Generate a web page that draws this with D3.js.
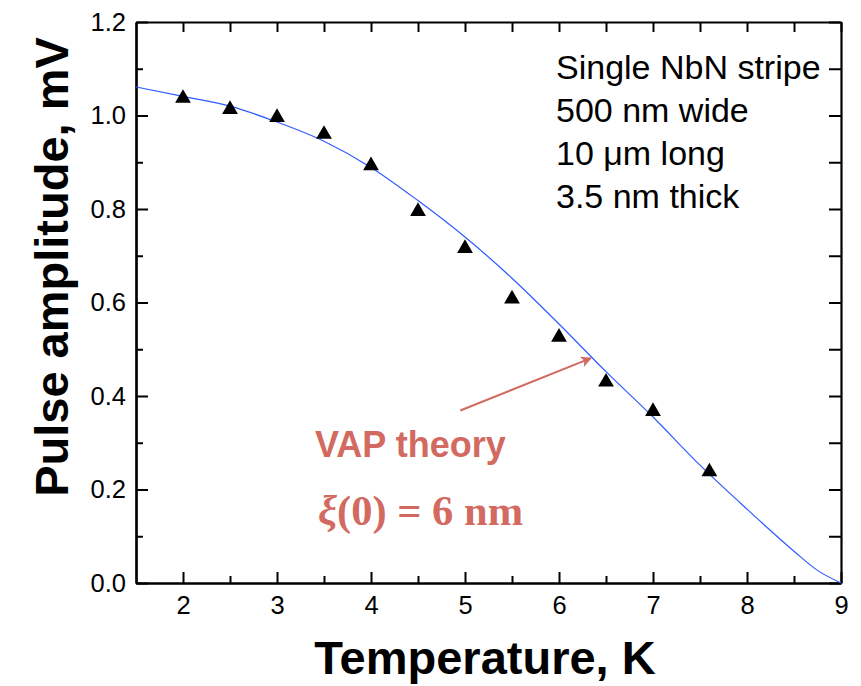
<!DOCTYPE html>
<html>
<head>
<meta charset="utf-8">
<script src="https://cdn.jsdelivr.net/npm/d3@7"></script>
<style>
  body { margin: 0; background: #fff; }
  text { font-family: "Liberation Sans", Arial, Helvetica, sans-serif; }
</style>
</head>
<body>
<div id="plot"></div>
<script>
// measured points
const tempK = [2, 2.5, 3, 3.5, 4, 4.5, 5, 5.5, 6, 6.5, 7, 7.6];
const amplitude = [1.039, 1.015, 0.998, 0.962, 0.895, 0.797, 0.718, 0.610, 0.528, 0.432, 0.369, 0.240];

// VAP theory curve
const theoryT = [1.5, 2, 2.5, 3, 3.5, 4, 4.5, 5, 5.5, 6, 6.5, 7, 7.5, 8, 8.5, 8.75, 9];
const theoryV = [1.061, 1.041, 1.020, 0.986, 0.945, 0.889, 0.818, 0.740, 0.652, 0.554, 0.452, 0.355, 0.252, 0.158, 0.068, 0.027, 0];

const xMajor = [2, 3, 4, 5, 6, 7, 8, 9];
const xMinor = [2.5, 3.5, 4.5, 5.5, 6.5, 7.5, 8.5];
const yMajor = [0, 0.2, 0.4, 0.6, 0.8, 1.0, 1.2];
const yMinor = [0.1, 0.3, 0.5, 0.7, 0.9, 1.1];

const infoLines = ['Single NbN stripe', '500 nm wide', '10 \u03bcm long', '3.5 nm thick'];

const W = 861, H = 686;
const margin = {t: 22, r: 20, b: 103, l: 136};
const width = W - margin.l - margin.r;
const height = H - margin.t - margin.b;
const salmon = '#d26a62';

const svg = d3.select('#plot')
    .append('svg')
    .attr('width', W)
    .attr('height', H);

const g = svg.append('g')
    .attr('transform', `translate(${margin.l}, ${margin.t})`);

const x = d3.scaleLinear().domain([1.5, 9]).range([0, width]);
const y = d3.scaleLinear().domain([0, 1.2]).range([height, 0]);

// axes, ticks pointing inward
function styleAxis(sel) {
    sel.select('.domain').attr('stroke', '#000').attr('stroke-width', 2.2);
    sel.selectAll('.tick line').attr('stroke', '#000').attr('stroke-width', 2);
    sel.selectAll('.tick text')
        .attr('fill', '#000')
        .style('font-size', '25.5px')
        .style('font-family', '"Liberation Sans", Arial, sans-serif');
}

g.append('g')
    .attr('transform', `translate(0, ${height})`)
    .call(d3.axisBottom(x).tickValues(xMajor).tickSizeInner(-11).tickSizeOuter(0).tickPadding(13).tickFormat(d3.format('d')))
    .call(styleAxis);
g.append('g')
    .attr('transform', `translate(0, ${height})`)
    .call(d3.axisBottom(x).tickValues(xMinor).tickSizeInner(-7).tickSizeOuter(0).tickFormat(''))
    .call(styleAxis);

g.append('g')
    .call(d3.axisLeft(y).tickValues(yMajor).tickSizeInner(-12).tickSizeOuter(0).tickPadding(10).tickFormat(d3.format('.1f')))
    .call(styleAxis);
g.append('g')
    .call(d3.axisLeft(y).tickValues(yMinor).tickSizeInner(-7).tickSizeOuter(0).tickFormat(''))
    .call(styleAxis);

g.append('g')
    .call(d3.axisTop(x).tickValues(xMajor.concat(xMinor)).tickSizeInner(-10).tickSizeOuter(0).tickFormat(''))
    .call(styleAxis);

g.append('g')
    .attr('transform', `translate(${width}, 0)`)
    .call(d3.axisRight(y).tickValues(yMajor.concat(yMinor)).tickSizeInner(-12).tickSizeOuter(0).tickFormat(''))
    .call(styleAxis);

// theory curve
const curve = d3.line()
    .x((d, i) => x(theoryT[i]))
    .y(d => y(d))
    .curve(d3.curveMonotoneX);

g.append('path')
    .datum(theoryV)
    .attr('fill', 'none')
    .attr('stroke', '#2f5bff')
    .attr('stroke-width', 1.2)
    .attr('d', curve);

// data triangles
const tri = d3.symbol().type(d3.symbolTriangle).size(108);
g.selectAll('.pt')
    .data(amplitude)
    .enter()
    .append('path')
    .attr('class', 'pt')
    .attr('d', tri)
    .attr('fill', '#000')
    .attr('transform', (d, i) => `translate(${x(tempK[i])}, ${y(d) + 1})`);

// text box, upper right
g.append('g')
    .selectAll('text')
    .data(infoLines)
    .enter()
    .append('text')
    .attr('x', 420)
    .attr('y', (d, i) => 56.5 + i * 43)
    .style('font-size', '34px')
    .attr('fill', '#000')
    .text(d => d);

// arrow to the curve
svg.append('defs').append('marker')
    .attr('id', 'head')
    .attr('viewBox', '0 0 10 10')
    .attr('refX', 9)
    .attr('refY', 5)
    .attr('markerWidth', 14)
    .attr('markerHeight', 11)
    .attr('markerUnits', 'userSpaceOnUse')
    .attr('orient', 'auto')
    .append('path')
    .attr('d', 'M0,0 L10,5 L0,10 L2.5,5 Z')
    .attr('fill', salmon);

g.append('line')
    .attr('x1', x(4.95)).attr('y1', y(0.369))
    .attr('x2', x(6.34)).attr('y2', y(0.481))
    .attr('stroke', salmon)
    .attr('stroke-width', 2)
    .attr('marker-end', 'url(#head)');

g.append('text')
    .attr('x', 179)
    .attr('y', 435)
    .style('font-size', '36px')
    .style('font-weight', 'bold')
    .attr('fill', salmon)
    .text('VAP theory');

const xi = g.append('text')
    .attr('x', 182)
    .attr('y', 503)
    .style('font-family', '"Liberation Serif", "Times New Roman", serif')
    .style('font-size', '42.5px')
    .style('font-weight', 'bold')
    .attr('fill', salmon);
xi.append('tspan').style('font-style', 'italic').text('\u03be');
xi.append('tspan').text('(0) = 6 nm');

// axis titles
svg.append('text')
    .attr('x', 485)
    .attr('y', 674)
    .attr('text-anchor', 'middle')
    .style('font-size', '47px')
    .style('font-weight', 'bold')
    .text('Temperature, K');

svg.append('text')
    .attr('transform', 'translate(68, 267) rotate(-90)')
    .attr('text-anchor', 'middle')
    .style('font-size', '47px')
    .style('font-weight', 'bold')
    .text('Pulse amplitude, mV');
</script>
</body>
</html>
